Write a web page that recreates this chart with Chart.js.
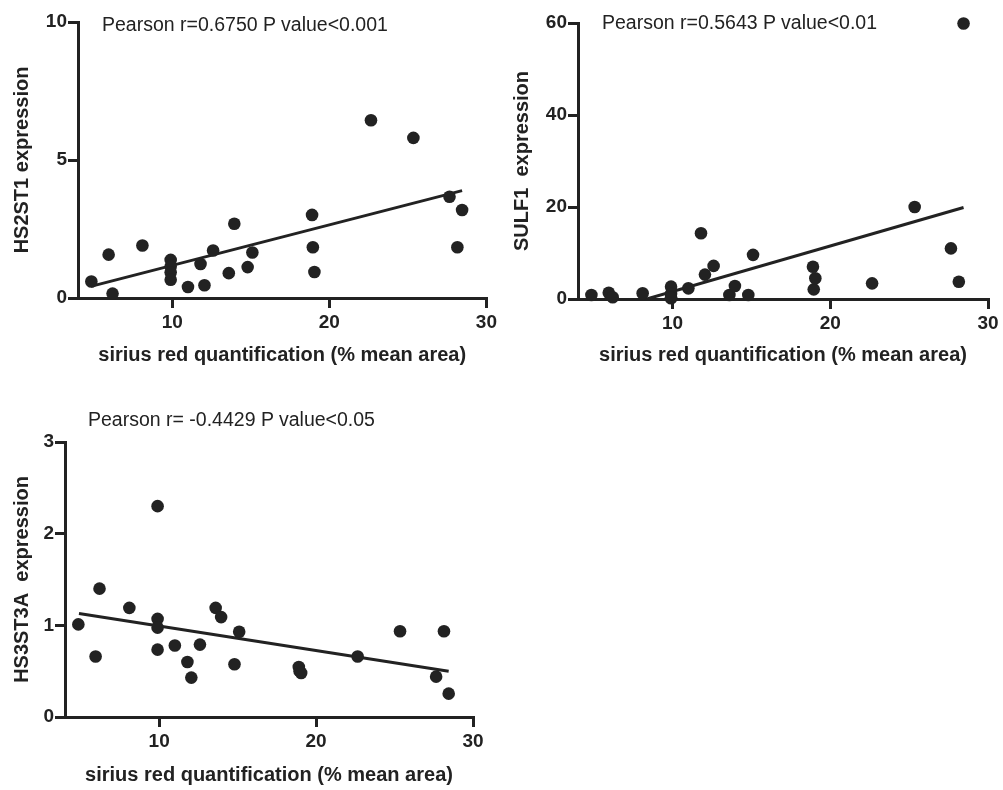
<!DOCTYPE html>
<html>
<head>
<meta charset="utf-8">
<script src="https://cdn.jsdelivr.net/npm/chart.js@4.4.1/dist/chart.umd.min.js"></script>
<style>
  html, body { margin: 0; padding: 0; background: #fff; }
  body { width: 1003px; height: 790px; position: relative; overflow: hidden; }
  .panel { position: absolute; }
  .note { position: absolute; font-family: 'Liberation Sans', Arial, sans-serif; font-size: 19.5px; line-height: 20px; color: #222; white-space: pre; }
</style>
</head>
<body>
<div class="panel" style="left:0;top:0;width:500px;height:390px"><canvas id="c1" width="500" height="390"></canvas></div>
<div class="panel" style="left:500px;top:0;width:503px;height:390px"><canvas id="c2" width="503" height="390"></canvas></div>
<div class="panel" style="left:0;top:400px;width:500px;height:390px"><canvas id="c3" width="500" height="390"></canvas></div>
<div class="note" id="n1" style="left:102px;top:14px"></div>
<div class="note" id="n2" style="left:602px;top:12px"></div>
<div class="note" id="n3" style="left:88px;top:409px"></div>
<script>
// ---- data ----
const siriusRed = [4.85, 5.95, 6.2, 8.1, 9.9, 9.9, 9.9, 9.9, 11.0, 11.8, 12.05, 12.6, 13.6, 13.95, 14.8, 15.1, 18.9, 18.95, 19.05, 22.65, 25.35, 27.65, 28.15, 28.45];
const hs2st1 = [0.6, 1.57, 0.16, 1.9, 1.38, 1.14, 0.93, 0.66, 0.4, 1.23, 0.46, 1.72, 0.9, 2.69, 1.12, 1.65, 3.01, 1.84, 0.94, 6.44, 5.8, 3.67, 1.84, 3.19];
const sulf1 = [0.87, 1.37, 0.37, 1.24, 2.68, 1.1, 0.15, 0.3, 2.32, 14.3, 5.3, 7.2, 0.87, 2.82, 0.87, 9.6, 7.0, 2.1, 4.5, 3.4, 20.0, 11.0, 3.76, 59.9];
const hs3st3a = [1.01, 0.66, 1.40, 1.19, 1.07, 0.975, 0.735, 2.30, 0.78, 0.6, 0.43, 0.79, 1.19, 1.09, 0.575, 0.93, 0.545, 0.5, 0.48, 0.66, 0.935, 0.44, 0.935, 0.255];

const fit1X = [4.82, 28.45], fit1Y = [0.42, 3.89];
const fit2X = [8.36, 28.45], fit2Y = [0.0, 19.9];
const fit3X = [4.89, 28.45], fit3Y = [1.13, 0.50];

const xTicks = [10, 20, 30];
const y1Ticks = [0, 5, 10];
const y2Ticks = [0, 20, 40, 60];
const y3Ticks = [0, 1, 2, 3];

const xTitle = 'sirius red quantification (% mean area)';
const y1Title = 'HS2ST1 expression';
const y2Title = 'SULF1  expression';
const y3Title = 'HS3ST3A  expression';
const notes = ['Pearson r=0.6750 P value<0.001', 'Pearson r=0.5643 P value<0.01', 'Pearson r= -0.4429 P value<0.05'];

document.getElementById('n1').textContent = notes[0];
document.getElementById('n2').textContent = notes[1];
document.getElementById('n3').textContent = notes[2];

const INK = '#222';
const FONT = "'Liberation Sans', Arial, sans-serif";

function pairs(xs, ys) { return xs.map((x, i) => ({ x: x, y: ys[i] })); }

function makeChart(id, ys, fx, fy, yTicks, yTitle, geo) {
  const yMax = yTicks[yTicks.length - 1];
  new Chart(document.getElementById(id), {
    type: 'scatter',
    data: {
      datasets: [
        { data: pairs(siriusRed, ys), pointRadius: 6.3, pointHoverRadius: 6.3, backgroundColor: INK, borderColor: INK, borderWidth: 0, clip: false, order: 1 },
        { type: 'line', data: pairs(fx, fy), borderColor: INK, borderWidth: 3, pointRadius: 0, fill: false, order: 2 }
      ]
    },
    options: {
      responsive: false,
      animation: false,
      events: [],
      layout: { padding: { top: geo.top, right: geo.right, left: 0, bottom: 0 } },
      plugins: { legend: { display: false }, tooltip: { enabled: false } },
      scales: {
        x: {
          type: 'linear', min: 4, max: 30,
          afterBuildTicks: s => { s.ticks = xTicks.map(v => ({ value: v })); },
          afterFit: s => { s.height = geo.xh; },
          border: { display: true, width: 3, color: INK },
          grid: { display: true, drawOnChartArea: false, drawTicks: true, tickLength: 10, lineWidth: 3, color: INK },
          ticks: { color: INK, font: { family: FONT, size: 19, weight: 'bold' }, padding: 3, maxRotation: 0 },
          title: { display: true, text: xTitle, color: INK, font: { family: FONT, size: 20, weight: 'bold' }, padding: { top: 0, bottom: geo.xtb } }
        },
        y: {
          type: 'linear', min: 0, max: yMax,
          afterBuildTicks: s => { s.ticks = yTicks.map(v => ({ value: v })); },
          afterFit: s => { s.width = geo.yw; },
          border: { display: true, width: 3, color: INK },
          grid: { display: true, drawOnChartArea: false, drawTicks: true, tickLength: 10, lineWidth: 3, color: INK },
          ticks: { color: INK, font: { family: FONT, size: 19, weight: 'bold' }, padding: 1 },
          title: { display: true, text: yTitle, color: INK, font: { family: FONT, size: 20, weight: 'bold' }, padding: { top: 10, bottom: 0 } }
        }
      }
    }
  });
}

makeChart('c1', hs2st1, fit1X, fit1Y, y1Ticks, y1Title, { top: 22, right: 13, xh: 92, yw: 78, xtb: 23 });
makeChart('c2', sulf1, fit2X, fit2Y, y2Ticks, y2Title, { top: 23, right: 15, xh: 91, yw: 78, xtb: 23 });
makeChart('c3', hs3st3a, fit3X, fit3Y, y3Ticks, y3Title, { top: 42, right: 27, xh: 73, yw: 65, xtb: 3 });
</script>
</body>
</html>
